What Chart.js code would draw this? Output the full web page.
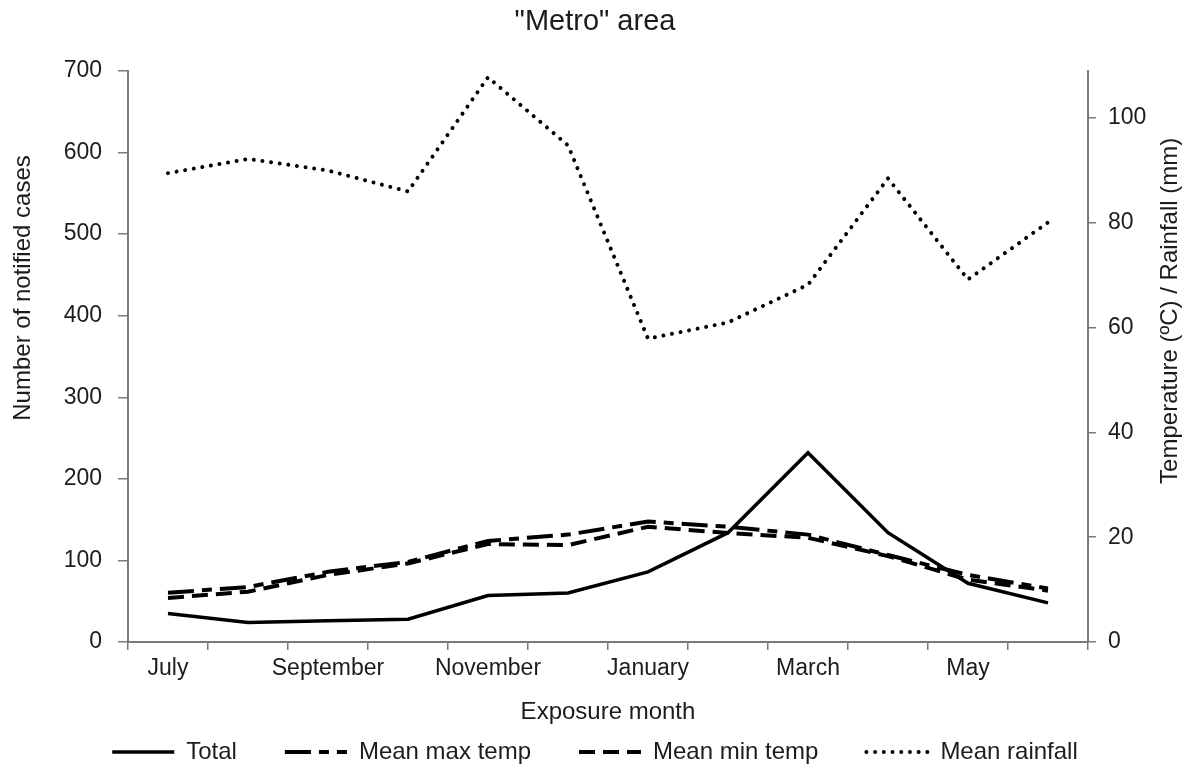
<!DOCTYPE html>
<html>
<head>
<meta charset="utf-8">
<script src="https://cdn.jsdelivr.net/npm/chart.js@4.4.1/dist/chart.umd.min.js"></script>
<style>
  html, body { margin: 0; padding: 0; background: #ffffff; }
  #wrap { width: 1190px; height: 771px; position: relative; }
</style>
</head>
<body>
<div id="wrap"><canvas id="c"></canvas></div>
<script>
// ---- data ----
const months = ['July','August','September','October','November','December','January','February','March','April','May','June'];
const totalCases = [35, 24, 26, 28, 57, 60, 86, 134, 232, 134, 72, 48];
const meanMaxTemp = [9.4, 10.5, 13.4, 15.3, 19.3, 20.5, 23.0, 22.0, 20.5, 16.6, 12.8, 10.2];
const meanMinTemp = [8.4, 9.6, 12.8, 15.0, 18.7, 18.5, 22.0, 20.8, 19.9, 16.4, 11.9, 9.8];
const meanRainfall = [89.5, 92.2, 90.0, 86.0, 107.8, 94.8, 57.9, 61.0, 68.2, 88.5, 69.2, 80.1];
const leftTicks = [0, 100, 200, 300, 400, 500, 600, 700];
const rightTicks = [0, 20, 40, 60, 80, 100];
const chartTitle = '"Metro" area';
const xTitle = 'Exposure month';
const leftTitle = 'Number of notified cases';
const rightTitle = 'Temperature (\u00BAC) / Rainfall (mm)';

// ---- styles ----
const FONT = '"Liberation Sans", Arial, sans-serif';
const TEXT = '#1c1c1c';
const AXIS = '#7a7a7a';
const LINE = '#000000';

const verticalTitles = {
  id: 'verticalTitles',
  afterDraw(chart) {
    const ctx = chart.ctx;
    const ca = chart.chartArea;
    ctx.save();
    ctx.fillStyle = TEXT;
    ctx.font = '24px ' + FONT;
    ctx.textAlign = 'center';
    ctx.textBaseline = 'middle';
    const items = [
      [leftTitle, 23, ca.top + (ca.bottom - ca.top) * 0.38],
      [rightTitle, 1170, ca.top + (ca.bottom - ca.top) * 0.42]
    ];
    items.forEach(([t, x, y]) => {
      ctx.save();
      ctx.translate(x, y);
      ctx.rotate(-Math.PI / 2);
      ctx.fillText(t, 0, 0);
      ctx.restore();
    });
    ctx.restore();
  }
};

const ctx = document.getElementById('c').getContext('2d');
new Chart(ctx, {
  type: 'line',
  data: {
    labels: months,
    datasets: [
      { label: 'Total', data: totalCases, yAxisID: 'y', borderColor: LINE, backgroundColor: LINE,
        borderWidth: 3.5, pointRadius: 0, tension: 0, borderCapStyle: 'butt' },
      { label: 'Mean max temp', data: meanMaxTemp, yAxisID: 'y1', borderColor: LINE, backgroundColor: LINE,
        borderWidth: 4, borderDash: [26, 8, 10, 8], pointRadius: 0, tension: 0, borderCapStyle: 'butt' },
      { label: 'Mean min temp', data: meanMinTemp, yAxisID: 'y1', borderColor: LINE, backgroundColor: LINE,
        borderWidth: 4, borderDash: [16, 8], pointRadius: 0, tension: 0, borderCapStyle: 'butt' },
      { label: 'Mean rainfall', data: meanRainfall, yAxisID: 'y1', borderColor: LINE, backgroundColor: LINE,
        borderWidth: 4, borderDash: [0.01, 8.7], pointRadius: 0, tension: 0, borderCapStyle: 'round' }
    ]
  },
  options: {
    responsive: true,
    maintainAspectRatio: false,
    animation: false,
    layout: { padding: 0 },
    plugins: {
      title: {
        display: true, text: chartTitle, color: TEXT,
        font: { family: FONT, size: 29, weight: 'normal' },
        padding: { top: 5, bottom: 31.2 }
      },
      legend: {
        position: 'bottom',
        maxHeight: 79,
        labels: {
          usePointStyle: true,
          pointStyle: 'line',
          pointStyleWidth: 62,
          padding: 48,
          color: TEXT,
          font: { family: FONT, size: 24 },
          generateLabels: (chart) => chart.data.datasets.map((ds, i) => ({
            text: ds.label,
            fillStyle: ds.borderColor,
            strokeStyle: ds.borderColor,
            lineWidth: ds.borderWidth,
            lineDash: ds.borderDash || [],
            lineCap: ds.borderCapStyle || 'butt',
            pointStyle: 'line',
            fontColor: TEXT,
            hidden: false,
            datasetIndex: i
          }))
        }
      },
      tooltip: { enabled: false }
    },
    scales: {
      x: {
        type: 'category',
        offset: true,
        grid: { offset: true, drawOnChartArea: false, drawTicks: true, tickLength: 8, color: AXIS, lineWidth: 1.5 },
        border: { display: true, color: AXIS, width: 2 },
        ticks: {
          autoSkip: false, maxRotation: 0, minRotation: 0, padding: 5, color: TEXT,
          font: { family: FONT, size: 23 },
          callback: function (v, i) { return i % 2 === 0 ? this.getLabelForValue(v) : ''; }
        },
        title: {
          display: true, text: xTitle, color: TEXT,
          font: { family: FONT, size: 24 },
          padding: { top: 0, bottom: -34.4 }
        },
        afterFit: (s) => { s.height = 50; }
      },
      y: {
        position: 'left',
        min: leftTicks[0], max: leftTicks[leftTicks.length - 1],
        afterBuildTicks: (s) => { s.ticks = leftTicks.map(v => ({ value: v })); },
        grid: { drawOnChartArea: false, tickLength: 10, color: AXIS, lineWidth: 1.5 },
        border: { display: true, color: AXIS, width: 2 },
        ticks: { padding: 16, color: TEXT, font: { family: FONT, size: 23 } },
        afterFit: (s) => { s.width = 128; }
      },
      y1: {
        position: 'right',
        min: 0, max: 109,
        afterBuildTicks: (s) => { s.ticks = rightTicks.map(v => ({ value: v })); },
        grid: { drawOnChartArea: false, tickLength: 8, color: AXIS, lineWidth: 1.5 },
        border: { display: true, color: AXIS, width: 2 },
        ticks: { padding: 12, color: TEXT, font: { family: FONT, size: 23 } },
        afterFit: (s) => { s.width = 102; }
      }
    }
  },
  plugins: [verticalTitles]
});
</script>
</body>
</html>
